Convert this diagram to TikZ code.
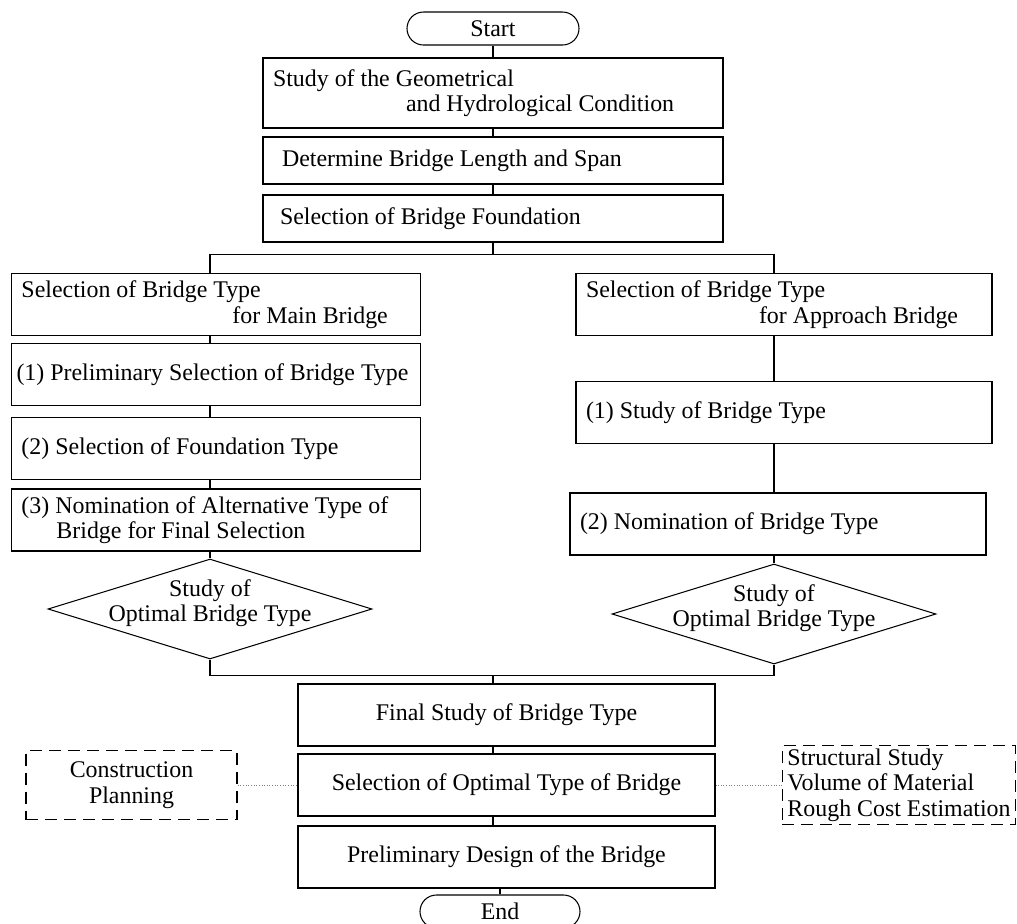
\documentclass[tikz,border=0pt]{standalone}
\usepackage{fontspec}
\setmainfont{Liberation Serif}
\usetikzlibrary{shapes,arrows,positioning}

\begin{document}
\begin{tikzpicture}[node distance=1.4cm, line width=0.6pt, font=\fontsize{13.6pt}{14.5pt}\selectfont,
  execute at begin node=\spaceskip0pt\xspaceskip0pt]

% Define styles
\tikzstyle{terminal} = [rectangle, draw, rounded corners=0.33cm, minimum width=3.44cm, minimum height=0.66cm, inner sep=0pt]
\tikzstyle{box} = [rectangle, draw, align=left, inner xsep=0.2cm, minimum height=1.24cm]
\tikzstyle{mainbox} = [box, text width=8.8cm]
\tikzstyle{leftbox} = [box, text width=7.78cm]
\tikzstyle{rightbox} = [box, text width=7.92cm]
\tikzstyle{finalbox} = [box, align=center, minimum width=8.34cm]
\tikzstyle{decision} = [diamond, draw, minimum width=6.48cm, minimum height=2cm, inner sep=0pt]
\tikzstyle{note} = [rectangle, draw, line width=0.9pt, dash pattern=on 0.24cm off 0.14cm]
\tikzstyle{link} = [densely dotted, gray, line width=0.5pt]

\useasboundingbox (0,0) rectangle (20.34,-18.46);

% Top of the chart
\node [terminal] (start) at (9.86,-0.57) {Start};
\node [mainbox, below of=start, node distance=1.29cm, minimum height=1.4cm] (geo) {Study of the Geometrical\\\hspace*{2.66cm}and Hydrological Condition};
\node [mainbox, below of=geo, node distance=1.35cm, minimum height=0.94cm] (span) {\hspace*{0.18cm}Determine Bridge Length and Span};
\node [mainbox, below of=span, node distance=1.16cm, minimum height=0.94cm] (found) {\hspace*{0.14cm}Selection of Bridge Foundation};

% Main bridge branch
\node [leftbox, below of=found, node distance=1.72cm, xshift=-5.54cm] (mainsel) {Selection of Bridge Type\\\hspace*{4.22cm}for Main Bridge};
\node [leftbox, below of=mainsel, text width=7.98cm, inner xsep=0.1cm] (prelim) {(1) Preliminary Selection of Bridge Type};
\node [leftbox, below of=prelim, node distance=1.48cm] (fdtype) {(2) Selection of Foundation Type};
\node [leftbox, below of=fdtype, node distance=1.43cm] (nomalt) {(3) Nomination of Alternative Type of\\\hspace*{0.7cm}Bridge for Final Selection};
\node [decision, below of=nomalt, node distance=1.78cm, xshift=-0.12cm,
       label={[align=center, yshift=0.12cm]center:Study of\\Optimal Bridge Type}] (mainopt) {};

% Approach bridge branch
\node [rightbox, below of=found, node distance=1.72cm, xshift=5.82cm] (appsel) {Selection of Bridge Type\\\hspace*{3.46cm}for Approach Bridge};
\node [rightbox, below of=appsel, node distance=2.16cm] (appstudy) {(1) Study of Bridge Type};
\node [rightbox, below of=appstudy, node distance=2.23cm, xshift=-0.12cm] (appnom) {(2) Nomination of Bridge Type};
\node [decision, below of=appnom, node distance=1.8cm, xshift=-0.08cm,
       label={[align=center, yshift=0.12cm]center:Study of\\Optimal Bridge Type}] (appopt) {};

% Final selection
\node [finalbox, below of=found, node distance=9.93cm, xshift=0.27cm] (final) {Final Study of Bridge Type};
\node [finalbox, below of=final] (optimal) {Selection of Optimal Type of Bridge};
\node [finalbox, below of=optimal, node distance=1.44cm] (design) {Preliminary Design of the Bridge};
\node [terminal, below of=design, node distance=1.09cm, xshift=-0.13cm, minimum width=3.2cm] (stop) {End};

% Side notes
\node [note, align=center, minimum width=4.22cm, minimum height=1.38cm, left of=optimal, node distance=7.5cm] (plan) {Construction\\Planning};
\node [note, align=left, inner xsep=0.1cm, inner ysep=0.05cm, minimum height=1.58cm, right of=optimal, node distance=7.85cm] (struct) {Structural Study\\Volume of Material\\Rough Cost Estimation};

% Lines
\draw (start) -- (geo);
\draw (geo) -- (span);
\draw (span) -- (found);
\draw (found.south) -- ++(0,-0.24) coordinate (split);
\draw (split) -| (mainsel.north -| mainopt);
\draw (split) -| (appsel.north -| appopt);

\foreach \a/\b in {mainsel/prelim, prelim/fdtype, fdtype/nomalt}
  \draw (\a.south -| mainopt) -- (\b.north -| mainopt);
\draw (nomalt.south -| mainopt) -- (mainopt);

\foreach \a/\b in {appsel/appstudy, appstudy/appnom}
  \draw (\a.south -| appopt) -- (\b.north -| appopt);
\draw (appnom.south -| appopt) -- (appopt);

\draw (mainopt.south) -- ++(0,-0.32) coordinate (join) -- (join -| appopt) -- (appopt.south);
\draw (join -| found) -- (final.north -| found);
\draw (final.south -| found) -- (optimal.north -| found);
\draw (optimal.south -| found) -- (design.north -| found);
\draw (design.south -| stop) -- (stop);

\draw [link] (plan) -- (optimal);
\draw [link] (optimal) -- (struct);

\end{tikzpicture}
\end{document}
